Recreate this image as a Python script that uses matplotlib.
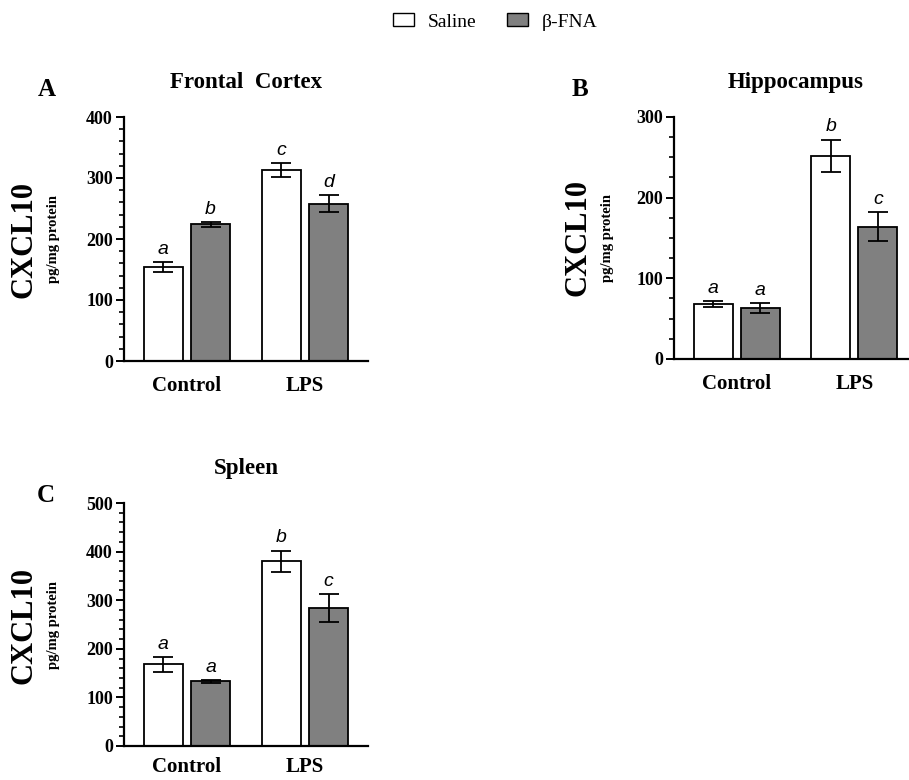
import matplotlib
matplotlib.use("Agg")
import matplotlib.pyplot as plt
from matplotlib.patches import Patch
from matplotlib.ticker import MultipleLocator

groups = ["Control", "LPS"]
series = ["Saline", "β-FNA"]
colors = ["white", "#808080"]

# Panel A: Frontal Cortex
a_saline = [154, 313]
a_saline_err = [8, 12]
a_fna = [224, 258]
a_fna_err = [4, 14]
a_letters_saline = ["a", "c"]
a_letters_fna = ["b", "d"]

# Panel B: Hippocampus
b_saline = [68, 252]
b_saline_err = [4, 20]
b_fna = [63, 164]
b_fna_err = [6, 18]
b_letters_saline = ["a", "b"]
b_letters_fna = ["a", "c"]

# Panel C: Spleen
c_saline = [168, 380]
c_saline_err = [15, 22]
c_fna = [133, 284]
c_fna_err = [3, 28]
c_letters_saline = ["a", "b"]
c_letters_fna = ["a", "c"]

W, H = 909, 780
fig = plt.figure(figsize=(W / 100, H / 100), dpi=100)

serif = "Liberation Serif"


def px_axes(x0, x1, ytop, ybot):
    return fig.add_axes([x0 / W, 1 - ybot / H, (x1 - x0) / W, (ybot - ytop) / H])


def draw_panel(ax, sal, sal_err, fna, fna_err, l_sal, l_fna, ymax, major, minor, title,
               xlim=(-0.534, 1.534), xpad=11):
    x = list(range(len(groups)))
    off = 0.2
    w = 0.33
    xs = [i - off for i in x]
    xf = [i + off for i in x]
    ek = dict(ecolor="black", elinewidth=1.3, capsize=7, capthick=1.3)
    ax.bar(xs, sal, w, color=colors[0], edgecolor="black", linewidth=1.3,
           yerr=sal_err, error_kw=ek, zorder=2)
    ax.bar(xf, fna, w, color=colors[1], edgecolor="black", linewidth=1.3,
           yerr=fna_err, error_kw=ek, zorder=2)
    for xi, v, e, t in list(zip(xs, sal, sal_err, l_sal)) + list(zip(xf, fna, fna_err, l_fna)):
        ax.annotate(t, (xi, v + e), xytext=(0, 3), textcoords="offset points",
                    ha="center", va="bottom", fontsize=14, style="italic",
                    family="Liberation Sans")
    ax.set_xlim(*xlim)
    ax.set_ylim(0, ymax)
    ax.yaxis.set_major_locator(MultipleLocator(major))
    ax.yaxis.set_minor_locator(MultipleLocator(minor))
    ax.set_xticks(x)
    ax.set_xticklabels(groups, fontsize=15, fontweight="bold", family=serif)
    ax.tick_params(axis="x", length=0, pad=xpad)
    ax.tick_params(axis="y", which="major", length=6, width=1.4, labelsize=13, pad=2)
    ax.tick_params(axis="y", which="minor", length=3.5, width=1.2)
    for lab in ax.get_yticklabels():
        lab.set_fontweight("bold")
        lab.set_family(serif)
    for s in ["top", "right"]:
        ax.spines[s].set_visible(False)
    for s in ["left", "bottom"]:
        ax.spines[s].set_linewidth(1.6)
    ax.set_title(title, fontsize=16.5, fontweight="bold", family=serif, pad=21)


axA = px_axes(124, 368, 117, 361)
draw_panel(axA, a_saline, a_saline_err, a_fna, a_fna_err, a_letters_saline, a_letters_fna,
           400, 100, 20, "Frontal  Cortex")
axB = px_axes(674, 917, 117, 359)
draw_panel(axB, b_saline, b_saline_err, b_fna, b_fna_err, b_letters_saline, b_letters_fna,
           300, 100, 25, "Hippocampus")
axC = px_axes(124, 368, 503, 746)
draw_panel(axC, c_saline, c_saline_err, c_fna, c_fna_err, c_letters_saline, c_letters_fna,
           500, 100, 20, "Spleen", xpad=8)

# panel letters
for lbl, (px, py) in {"A": (47, 90), "B": (580, 90), "C": (46, 496)}.items():
    fig.text(px / W, 1 - py / H, lbl, fontsize=18, fontweight="bold", family=serif,
             ha="center", va="center")

# y labels
for xc, yc in [(24, 239), (578, 238), (24, 625)]:
    fig.text(xc / W, 1 - yc / H, "CXCL10", rotation=90, fontsize=22, fontweight="bold",
             family=serif, ha="center", va="center")
    fig.text((xc + 29) / W, 1 - yc / H, "pg/mg protein", rotation=90, fontsize=10.5,
             fontweight="bold", family=serif, ha="center", va="center")

handles = [Patch(facecolor=c, edgecolor="black", linewidth=1.0) for c in colors]
fig.legend(handles, series, loc="center", bbox_to_anchor=(495 / W, 1 - 22 / H), ncol=2,
           frameon=False, prop={"family": serif, "size": 14}, handlelength=1.1,
           handleheight=0.6, columnspacing=1.55, handletextpad=0.7)

fig.savefig("out.png", dpi=100)
